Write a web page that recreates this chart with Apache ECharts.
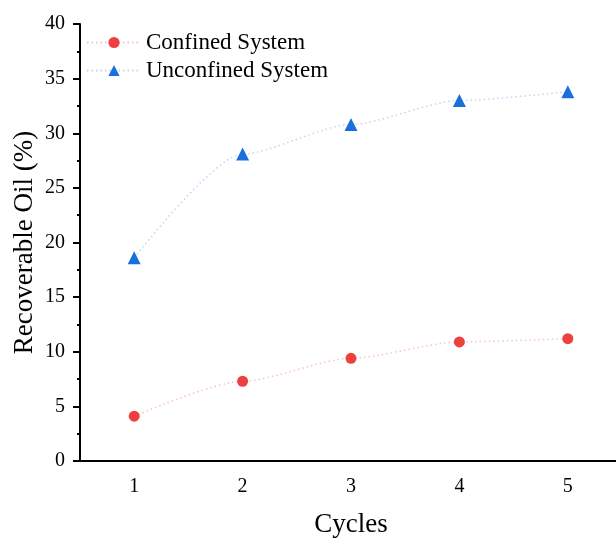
<!DOCTYPE html>
<html>
<head>
<meta charset="utf-8">
<script src="https://cdn.jsdelivr.net/npm/echarts@6/dist/echarts.min.js"></script>
<style>
  html, body { margin: 0; padding: 0; background: #fff; }
  #chart { width: 616px; height: 538px; }
</style>
</head>
<body>
<div id="chart"></div>
<script>
// cycle numbers on the x axis
const cycles = ['1', '2', '3', '4', '5'];
// recoverable oil, percent
const confined = [4.1, 7.3, 9.4, 10.9, 11.2];
const unconfined = [18.6, 28.1, 30.8, 33.0, 33.8];

const FONT = 'Liberation Serif';

const chart = echarts.init(document.getElementById('chart'));

const lineSeries = (name, data, dotColor, lineColor, symbol, size) => ({
  name,
  type: 'line',
  data,
  smooth: 0.25,
  smoothMonotone: 'x',
  symbol,
  symbolSize: size,
  itemStyle: { color: dotColor },
  lineStyle: { color: lineColor, width: 1.5, type: [1.5, 3] },
  emphasis: { disabled: true },
});

chart.setOption({
  animation: false,
  backgroundColor: '#fff',
  textStyle: { fontFamily: FONT, color: '#000' },
  grid: { left: 80, top: 24, bottom: 77, width: 542, containLabel: false, outerBoundsMode: 'none' },
  legend: {
    orient: 'vertical',
    left: 81,
    top: 26,
    itemWidth: 54,
    itemHeight: 14,
    itemGap: 5,
    textStyle: { fontFamily: FONT, fontSize: 23, color: '#000' },
    data: ['Confined System', 'Unconfined System'],
  },
  xAxis: [
    {
      type: 'category',
      data: cycles,
      position: 'bottom',
      boundaryGap: true,
      name: 'Cycles',
      nameLocation: 'middle',
      nameGap: 50,
      nameTextStyle: { fontFamily: FONT, fontSize: 27, color: '#000' },
      axisLine: { lineStyle: { color: '#000', width: 2 } },
      axisTick: { alignWithLabel: true, length: 7, lineStyle: { color: '#000', width: 2 } },
      axisLabel: { fontFamily: FONT, fontSize: 20, color: '#000', margin: 16 },
      splitLine: { show: false },
    },
    {
      // minor ticks between the cycles
      type: 'category',
      data: cycles,
      position: 'bottom',
      boundaryGap: true,
      axisLine: { show: false },
      axisTick: { length: 3, lineStyle: { color: '#000', width: 2 } },
      axisLabel: { show: false },
      splitLine: { show: false },
    },
  ],
  yAxis: {
    type: 'value',
    min: 0,
    max: 40,
    interval: 5,
    name: 'Recoverable Oil (%)',
    nameLocation: 'middle',
    nameGap: 42,
    nameMoveOverlap: false,
    nameTextStyle: { fontFamily: FONT, fontSize: 27, color: '#000' },
    axisLine: { show: true, lineStyle: { color: '#000', width: 2 } },
    axisTick: { show: true, length: 7, lineStyle: { color: '#000', width: 2 } },
    minorTick: { show: true, splitNumber: 2, length: 3, lineStyle: { color: '#000', width: 2 } },
    axisLabel: { fontFamily: FONT, fontSize: 20, color: '#000', margin: 15 },
    splitLine: { show: false },
  },
  series: [
    lineSeries('Confined System', confined, '#ef4040', '#f6c4c4', 'circle', 11),
    lineSeries('Unconfined System', unconfined, '#1a6fdc', '#c2d6f2', 'triangle', 13),
  ],
});
</script>
</body>
</html>
